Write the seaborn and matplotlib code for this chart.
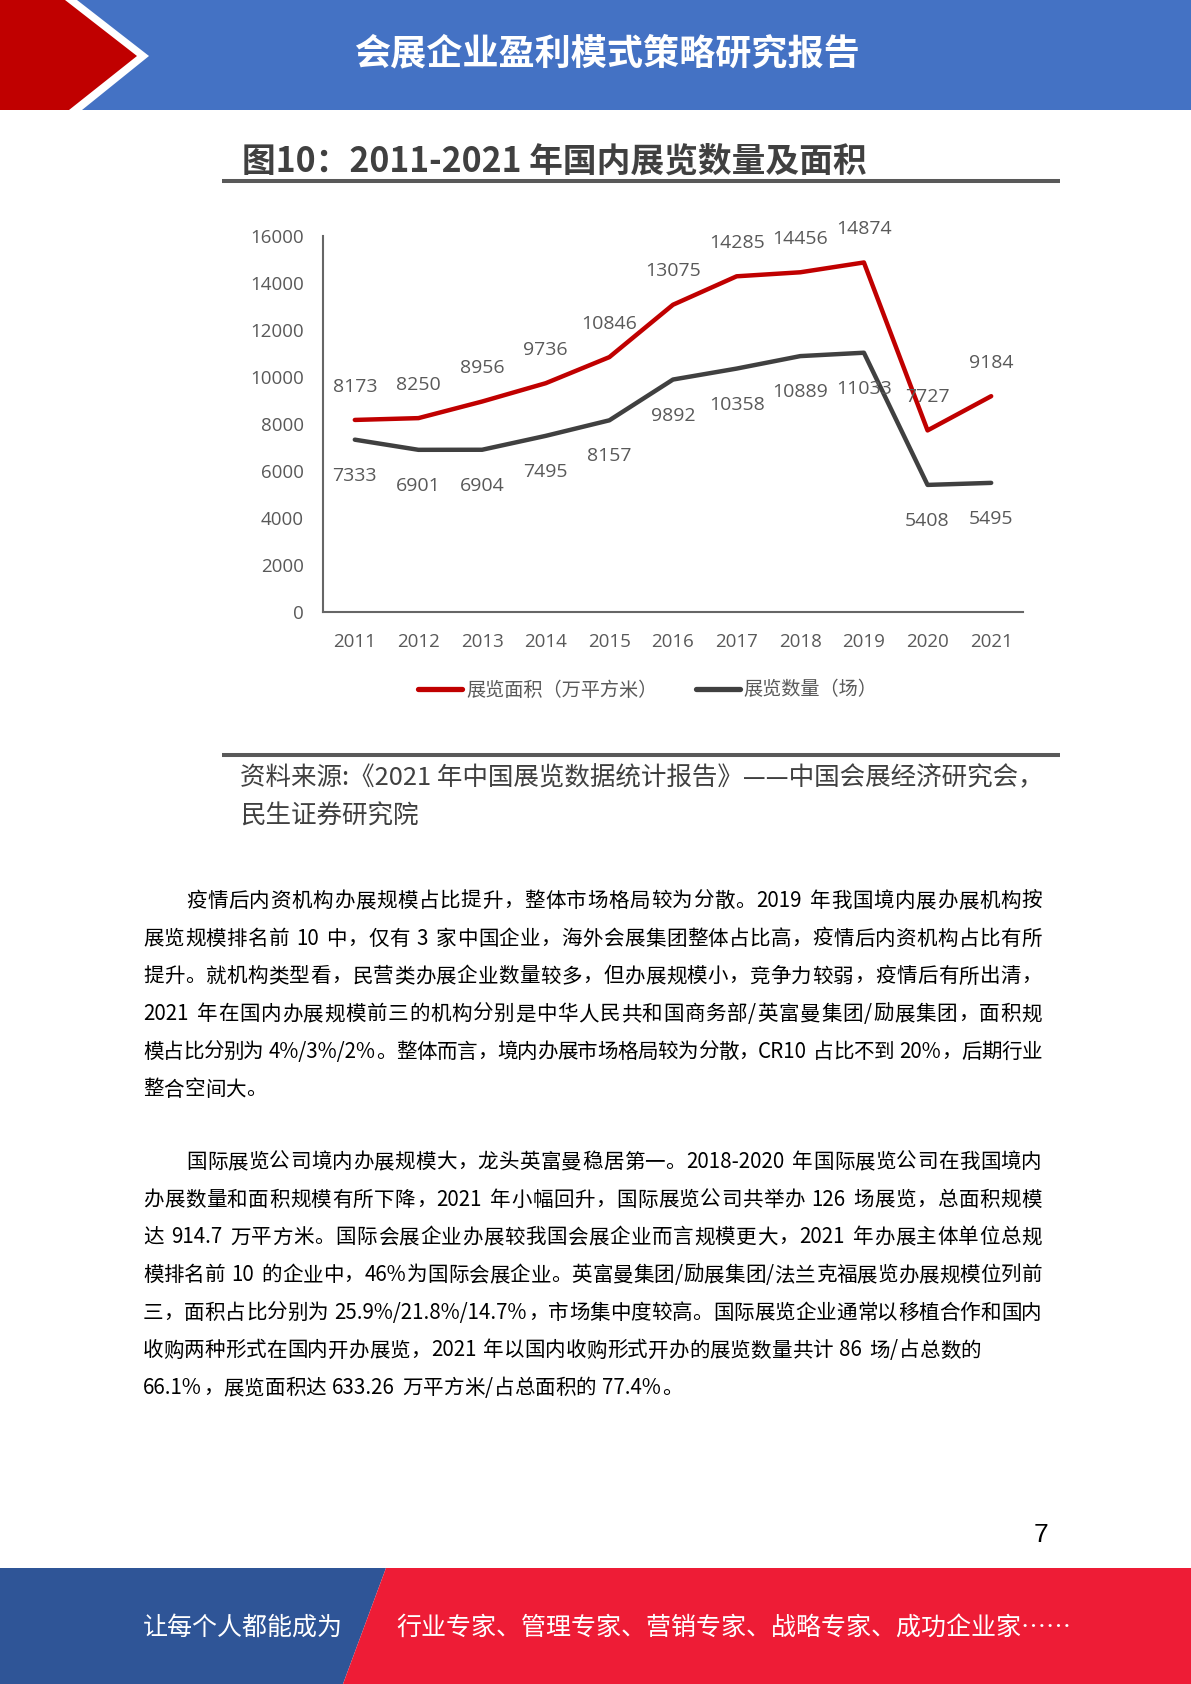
import matplotlib
matplotlib.use("Agg")
import matplotlib.pyplot as plt
import seaborn as sns
import pandas as pd
from matplotlib.patches import Polygon, Rectangle
from matplotlib.font_manager import FontProperties

# ---------------- data ----------------
years = [2011, 2012, 2013, 2014, 2015, 2016, 2017, 2018, 2019, 2020, 2021]
area = [8173, 8250, 8956, 9736, 10846, 13075, 14285, 14456, 14874, 7727, 9184]
count = [7333, 6901, 6904, 7495, 8157, 9892, 10358, 10889, 11033, 5408, 5495]
series_names = ["展览面积（万平方米）", "展览数量（场）"]
y_ticks = [0, 2000, 4000, 6000, 8000, 10000, 12000, 14000, 16000]

header_title = "会展企业盈利模式策略研究报告"
chart_title = "图10：2011-2021 年国内展览数量及面积"
source_lines = ["资料来源:《2021 年中国展览数据统计报告》——中国会展经济研究会，", "民生证券研究院"]
para1 = [
    "疫情后内资机构办展规模占比提升，整体市场格局较为分散。2019 年我国境内展办展机构按",
    "展览规模排名前 10 中，仅有 3 家中国企业，海外会展集团整体占比高，疫情后内资机构占比有所",
    "提升。就机构类型看，民营类办展企业数量较多，但办展规模小，竞争力较弱，疫情后有所出清，",
    "2021 年在国内办展规模前三的机构分别是中华人民共和国商务部/英富曼集团/励展集团，面积规",
    "模占比分别为 4%/3%/2%。整体而言，境内办展市场格局较为分散，CR10 占比不到 20%，后期行业",
    "整合空间大。",
]
para2 = [
    "国际展览公司境内办展规模大，龙头英富曼稳居第一。2018-2020 年国际展览公司在我国境内",
    "办展数量和面积规模有所下降，2021 年小幅回升，国际展览公司共举办 126 场展览，总面积规模",
    "达 914.7 万平方米。国际会展企业办展较我国会展企业而言规模更大，2021 年办展主体单位总规",
    "模排名前 10 的企业中，46%为国际会展企业。英富曼集团/励展集团/法兰克福展览办展规模位列前",
    "三，面积占比分别为 25.9%/21.8%/14.7%，市场集中度较高。国际展览企业通常以移植合作和国内",
    "收购两种形式在国内开办展览，2021 年以国内收购形式开办的展览数量共计 86 场/占总数的",
    "66.1%，展览面积达 633.26 万平方米/占总面积的 77.4%。",
]
footer_left = "让每个人都能成为"
footer_right = "行业专家、管理专家、营销专家、战略专家、成功企业家……"
page_no = "7"

# ---------------- style ----------------
sns.set_theme(style="white")
plt.rcParams["font.family"] = ["Noto Sans CJK SC", "DejaVu Sans"]

W, H = 1191, 1684
fig = plt.figure(figsize=(W / 100, H / 100), dpi=100)
fig.patch.set_facecolor("white")

bg = fig.add_axes([0, 0, 1, 1])
bg.set_xlim(0, W)
bg.set_ylim(H, 0)
bg.axis("off")

# header
bg.add_patch(Rectangle((0, 0), W, 110, color="#4472C4", lw=0))
bg.add_patch(Polygon([(0, 0), (77, 0), (149, 56), (82, 110), (0, 110)], closed=True, color="white", lw=0))
bg.add_patch(Polygon([(0, 0), (65, 0), (137, 56), (69, 110), (0, 110)], closed=True, color="#C00000", lw=0))
bg.text(607, 54, header_title, color="white", fontsize=26, fontweight="bold", ha="center", va="center")

# chart title + rules
bg.text(242, 161, chart_title, color="#404040", fontsize=24.3, fontweight="bold", ha="left", va="center")
bg.plot([222, 1060], [181, 181], color="#595959", lw=2.9, solid_capstyle="butt")
bg.plot([222, 1060], [755, 755], color="#595959", lw=2.9, solid_capstyle="butt")

# source
for i, s in enumerate(source_lines):
    bg.text(240, 778 + 39 * i, s, color="#404040", fontsize=18.4, ha="left", va="center")

# ---------------- chart ----------------
ax = fig.add_axes([323 / W, 1 - 612 / H, 700 / W, 376 / H])
ax.patch.set_alpha(0)
df = pd.DataFrame({
    "year": years + years,
    "value": area + count,
    "series": [series_names[0]] * len(years) + [series_names[1]] * len(years),
})
palette = {series_names[0]: "#C00000", series_names[1]: "#404040"}
sns.lineplot(data=df, x="year", y="value", hue="series", hue_order=series_names,
             palette=palette, linewidth=3.2, ax=ax)
for ln in ax.lines:
    ln.set_solid_joinstyle("round")

ax.set_xlim(2010.5, 2021.5)
ax.set_ylim(0, 16000)
ax.set_xticks(years)
ax.set_xticklabels([str(y) for y in years])
ax.set_yticks(y_ticks)
ax.set_yticklabels([str(v) for v in y_ticks])
ax.set_xlabel("")
ax.set_ylabel("")
ax.tick_params(axis="both", length=0, labelsize=13.5, labelcolor="#595959")
ax.tick_params(axis="x", pad=15)
ax.tick_params(axis="y", pad=14)
for lbl in ax.get_xticklabels() + ax.get_yticklabels():
    lbl.set_fontfamily("Open Sans")
for side in ["top", "right"]:
    ax.spines[side].set_visible(False)
for side in ["left", "bottom"]:
    ax.spines[side].set_color("#666666")
    ax.spines[side].set_linewidth(1.5)
ax.grid(False)

for x, v in zip(years, area):
    ax.annotate(str(v), (x, v), xytext=(0, 24), textcoords="offset points",
                ha="center", va="center", fontsize=14, color="#595959", family="Open Sans")
for x, v in zip(years, count):
    ax.annotate(str(v), (x, v), xytext=(0, -26), textcoords="offset points",
                ha="center", va="center", fontsize=14, color="#595959", family="Open Sans")

sns.move_legend(ax, "center", bbox_to_anchor=((648 - 323) / 700, (612 - 690) / 376),
                ncol=2, frameon=False, title=None, fontsize=13.8,
                handlelength=2.3, handletextpad=0.2, columnspacing=2.0)
leg = ax.get_legend()
for t in leg.get_texts():
    t.set_color("#595959")
for h in leg.legend_handles:
    h.set_linewidth(3.8)

# ---------------- body text (justified) ----------------
renderer = fig.canvas.get_renderer()
BODY_SIZE = 14.8
prop_body = FontProperties(family=["Noto Sans CJK SC"], size=BODY_SIZE)
EM = BODY_SIZE * 100 / 72.0


def units_of(line):
    units = []
    run = ""
    for ch in line:
        if ord(ch) < 128 and ch != " ":
            run += ch
            continue
        if run:
            w, _, _ = renderer.get_text_width_height_descent(run, prop_body, ismath=False)
            units.append((run, w + 1.0))
            run = ""
        if ch == " ":
            units.append(("", EM * 0.3))
        else:
            units.append((ch, EM))
    if run:
        w, _, _ = renderer.get_text_width_height_descent(run, prop_body, ismath=False)
        units.append((run, w + 1.0))
    return units


def draw_line(line, x0, x1, y, justify=True):
    units = units_of(line)
    natural = sum(w for _, w in units)
    gaps = len(units) - 1
    extra = (x1 - x0 - natural) / gaps if (justify and gaps > 0) else 0.0
    x = x0
    for t, w in units:
        if t:
            bg.text(x, y, t, fontproperties=prop_body, color="black", ha="left", va="center")
        x += w + extra


RIGHT = 1042
for i, line in enumerate(para1):
    x0 = 186 if i == 0 else 143
    draw_line(line, x0, RIGHT, 901 + 37.7 * i, justify=(i < len(para1) - 1))
for i, line in enumerate(para2):
    x0 = 186 if i == 0 else 143
    draw_line(line, x0, RIGHT, 1162 + 37.7 * i, justify=(i < len(para2) - 2))

# ---------------- footer ----------------
bg.text(1041, 1535, page_no, color="black", fontsize=19, ha="center", va="center", family="Liberation Sans")
bg.add_patch(Polygon([(0, 1568), (386, 1568), (343, H), (0, H)], closed=True, color="#2F5597", lw=0))
bg.add_patch(Polygon([(386, 1568), (W, 1568), (W, H), (343, H)], closed=True, color="#EE1C36", lw=0))
bg.text(143, 1628, footer_left, color="white", fontsize=18, ha="left", va="center")
bg.text(396, 1628, footer_right, color="white", fontsize=18, ha="left", va="center")

fig.savefig("out.png", dpi=100, facecolor="white")
